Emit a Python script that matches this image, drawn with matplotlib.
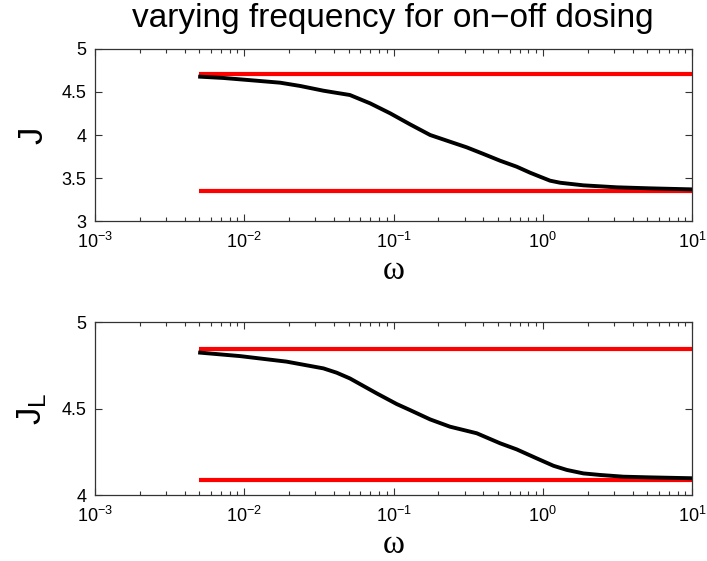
import numpy as np
import matplotlib
matplotlib.use("Agg")
import matplotlib.pyplot as plt
from matplotlib.ticker import LogLocator, FormatStrFormatter, NullFormatter

plt.rcParams["font.family"] = ["Liberation Sans", "DejaVu Sans"]
plt.rcParams["mathtext.fontset"] = "custom"
plt.rcParams["mathtext.rm"] = "Liberation Sans"
plt.rcParams["mathtext.it"] = "Liberation Sans"
plt.rcParams["mathtext.bf"] = "Liberation Sans:bold"

# ── Data ──────────────────────────────────────────────────────────────────────
omega_J = [0.00506, 0.00724, 0.0121, 0.0174, 0.0237, 0.0339, 0.0395, 0.051,
           0.0697, 0.095, 0.129, 0.176, 0.239, 0.309, 0.40, 0.518, 0.668,
           0.822, 0.96, 1.12, 1.31, 1.87, 3.13, 5.23, 10.0]
J_vals  = [4.678, 4.663, 4.631, 4.608, 4.570, 4.515, 4.496, 4.465,
           4.368, 4.252, 4.124, 4.000, 3.922, 3.857, 3.780, 3.701, 3.632,
           3.562, 3.515, 3.469, 3.445, 3.415, 3.392, 3.380, 3.368]
J_upper = 4.71
J_lower = 3.35

omega_JL = [0.00506, 0.00937, 0.0192, 0.0339, 0.0416, 0.051, 0.077, 0.105,
            0.129, 0.176, 0.239, 0.361, 0.518, 0.668, 0.91, 1.18, 1.45,
            1.87, 2.42, 3.47, 5.23, 10.0]
JL_vals  = [4.823, 4.803, 4.771, 4.732, 4.707, 4.674, 4.588, 4.526,
            4.491, 4.437, 4.395, 4.357, 4.299, 4.264, 4.212, 4.169, 4.145,
            4.125, 4.116, 4.106, 4.102, 4.097]
JL_upper = 4.844
JL_lower = 4.087

omega_min = 0.005
omega_max = 10.0

SERIF = ["Liberation Serif", "DejaVu Serif"]

# ── Figure ────────────────────────────────────────────────────────────────────
fig = plt.figure(figsize=(7.07, 5.61), dpi=100)
ax1 = fig.add_axes([0.1344, 0.606, 0.8444, 0.3067])
ax2 = fig.add_axes([0.1344, 0.1176, 0.8444, 0.3084])


def style_axis(ax, yticks, ylim):
    ax.set_xscale("log")
    ax.set_xlim(1e-3, 1e1)
    ax.set_ylim(*ylim)
    ax.set_yticks(yticks)
    ax.yaxis.set_major_formatter(FormatStrFormatter("%g"))
    ax.xaxis.set_major_locator(LogLocator(base=10, numticks=10))
    ax.xaxis.set_minor_locator(LogLocator(base=10, subs=np.arange(2, 10), numticks=20))
    ax.xaxis.set_minor_formatter(NullFormatter())
    ax.tick_params(which="both", direction="in", top=True, right=True,
                   labelsize=13, color="#333333", width=0.8)
    ax.tick_params(which="major", length=5)
    ax.tick_params(which="minor", length=3)
    ax.tick_params(axis="y", pad=6)
    ax.tick_params(axis="x", pad=8)
    for s in ax.spines.values():
        s.set_color("#333333")
        s.set_linewidth(0.9)


# ── Top panel: J ──────────────────────────────────────────────────────────────
style_axis(ax1, [3, 3.5, 4, 4.5, 5], (3, 5))
ax1.plot([omega_min, omega_max], [J_upper, J_upper], color="red", lw=3, solid_capstyle="butt")
ax1.plot([omega_min, omega_max], [J_lower, J_lower], color="red", lw=3, solid_capstyle="butt")
ax1.plot(omega_J, J_vals, color="black", lw=2.8)
ax1.set_xlabel("ω", family=SERIF, fontsize=24, labelpad=2)
ax1.set_ylabel("J", fontsize=25)
ax1.yaxis.set_label_coords(-0.077, 0.5)

# ── Bottom panel: J_L ─────────────────────────────────────────────────────────
style_axis(ax2, [4, 4.5, 5], (4, 5))
ax2.plot([omega_min, omega_max], [JL_upper, JL_upper], color="red", lw=3, solid_capstyle="butt")
ax2.plot([omega_min, omega_max], [JL_lower, JL_lower], color="red", lw=3, solid_capstyle="butt")
ax2.plot(omega_JL, JL_vals, color="black", lw=2.8)
ax2.set_xlabel("ω", family=SERIF, fontsize=24, labelpad=2)
ax2.set_ylabel(r"$\mathrm{J_L}$", fontsize=25)
ax2.yaxis.set_label_coords(-0.077, 0.5)

fig.text(0.555, 1 - 27 / 561, "varying frequency for on\u2212off dosing",
         ha="center", va="baseline", fontsize=24)

fig.savefig("out.png", dpi=100)
